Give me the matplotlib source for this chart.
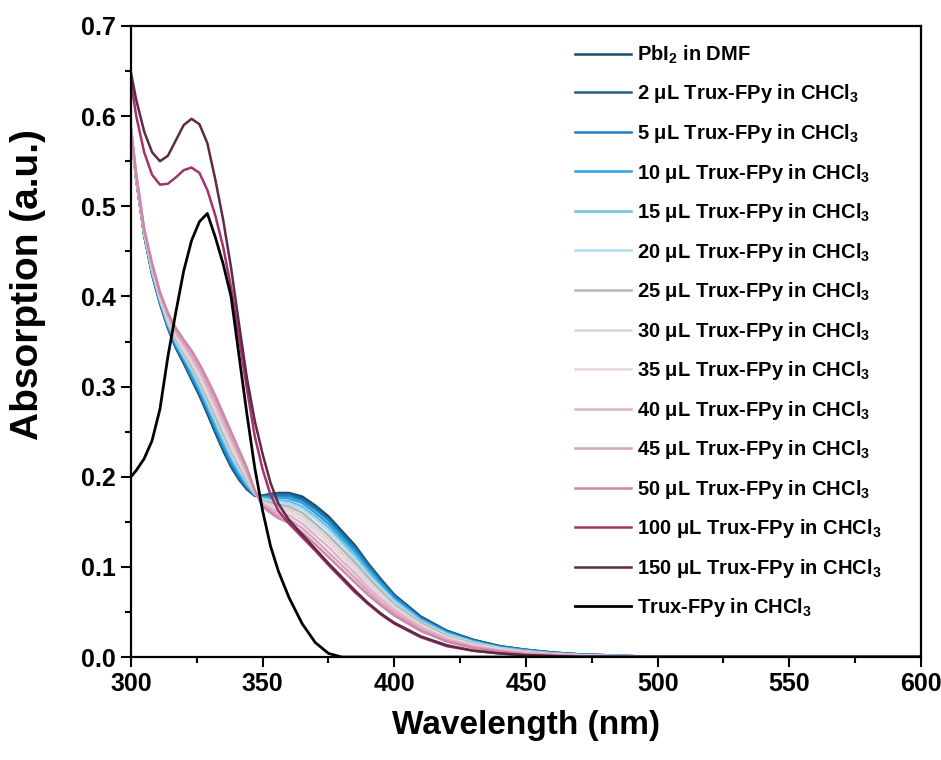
import matplotlib
matplotlib.use("Agg")
import matplotlib.pyplot as plt
from matplotlib.ticker import MultipleLocator

plt.rcParams["font.family"] = ["Liberation Sans", "DejaVu Sans"]
plt.rcParams["font.weight"] = "bold"
plt.rcParams["mathtext.fontset"] = "custom"
plt.rcParams["mathtext.rm"] = "Liberation Sans:bold"
plt.rcParams["mathtext.bf"] = "Liberation Sans:bold"
plt.rcParams["mathtext.default"] = "bf"

# wavelength grid (nm) shared by all spectra
wavelength = [300, 302, 305, 308, 311, 314, 317, 320, 323, 326, 329, 332, 335, 338, 341, 344,
              347, 350, 353, 356, 360, 365, 370, 375, 380, 385, 390, 395, 400, 410, 420, 430,
              440, 450, 460, 470, 480, 490, 500, 600]

pbi2_dmf = [.585, .530, .468, .425, .392, .365, .343, .326, .308, .290, .270, .249, .229, .211, .197, .186,
            .179, .179, .181, .182, .182, .178, .168, .156, .140, .124, .104, .086, .069, .045, .029, .019,
            .012, .008, .005, .003, .002, .001, 0, 0]
ul_2 = [.585, .530, .468, .425, .393, .366, .344, .327, .309, .291, .272, .251, .231, .213, .198, .187,
        .179, .179, .180, .181, .181, .176, .166, .154, .138, .122, .103, .085, .068, .044, .029, .019,
        .012, .008, .005, .003, .002, .001, 0, 0]
ul_5 = [.585, .531, .469, .426, .393, .367, .345, .329, .311, .294, .274, .253, .233, .215, .200, .188,
        .180, .178, .179, .179, .179, .174, .164, .152, .136, .120, .101, .083, .067, .043, .028, .018,
        .011, .008, .005, .003, .002, .001, 0, 0]
ul_10 = [.585, .531, .469, .427, .394, .368, .347, .331, .314, .296, .277, .256, .236, .218, .203, .190,
         .180, .177, .177, .177, .176, .171, .160, .148, .132, .117, .098, .081, .065, .042, .027, .017,
         .011, .007, .004, .003, .002, .001, 0, 0]
ul_15 = [.585, .531, .470, .428, .396, .370, .349, .333, .317, .299, .280, .260, .240, .222, .206, .192,
         .181, .176, .175, .174, .173, .167, .156, .144, .128, .113, .095, .078, .063, .041, .026, .017,
         .010, .007, .004, .002, .002, .001, 0, 0]
ul_20 = [.585, .532, .471, .429, .397, .371, .351, .335, .320, .303, .284, .264, .244, .225, .209, .195,
         .181, .175, .173, .172, .170, .164, .153, .140, .125, .109, .091, .076, .061, .039, .025, .016,
         .010, .006, .004, .002, .001, .001, 0, 0]
ul_25 = [.585, .532, .471, .431, .398, .373, .353, .338, .323, .306, .287, .268, .248, .229, .212, .197,
         .182, .173, .171, .169, .167, .160, .148, .135, .120, .105, .088, .073, .058, .038, .023, .015,
         .009, .006, .004, .002, .001, .001, 0, 0]
ul_30 = [.585, .533, .472, .432, .399, .374, .355, .340, .326, .309, .291, .272, .252, .232, .215, .199,
         .182, .172, .169, .167, .164, .156, .144, .131, .116, .101, .085, .070, .056, .036, .022, .014,
         .009, .005, .003, .002, .001, 0, 0, 0]
ul_35 = [.585, .533, .473, .433, .400, .376, .357, .343, .329, .313, .295, .276, .256, .236, .218, .202,
         .183, .171, .167, .164, .161, .152, .140, .127, .112, .097, .081, .067, .054, .035, .021, .013,
         .008, .005, .003, .002, .001, 0, 0, 0]
ul_40 = [.585, .534, .473, .434, .402, .378, .360, .346, .332, .317, .299, .280, .260, .241, .222, .204,
         .184, .170, .165, .161, .157, .148, .135, .122, .107, .093, .077, .064, .052, .033, .020, .012,
         .007, .004, .003, .001, .001, 0, 0, 0]
ul_45 = [.585, .534, .474, .436, .403, .380, .362, .349, .336, .321, .303, .285, .265, .245, .226, .207,
         .184, .168, .163, .157, .153, .143, .130, .116, .102, .088, .073, .060, .049, .031, .018, .011,
         .007, .004, .002, .001, .001, 0, 0, 0]
ul_50 = [.585, .535, .475, .437, .405, .382, .365, .352, .340, .325, .308, .290, .270, .250, .230, .210,
         .185, .167, .160, .154, .149, .138, .125, .111, .097, .083, .069, .057, .046, .029, .017, .010,
         .006, .003, .002, .001, .0005, 0, 0, 0]
ul_100 = [.638, .600, .560, .535, .524, .525, .532, .540, .543, .537, .518, .490, .455, .410, .355, .298,
          .245, .208, .180, .162, .148, .133, .118, .102, .087, .072, .059, .047, .037, .022, .012, .007,
          .004, .002, .001, 0, 0, 0, 0, 0]
ul_150 = [.648, .618, .583, .560, .550, .556, .573, .590, .597, .591, .570, .530, .485, .432, .370, .310,
          .262, .225, .193, .170, .152, .136, .120, .104, .089, .074, .060, .048, .038, .023, .013, .007,
          .004, .002, .001, 0, 0, 0, 0, 0]
trux_fpy = [.200, .207, .220, .240, .275, .333, .382, .428, .462, .483, .492, .466, .436, .400, .335, .270,
            .210, .162, .123, .095, .066, .037, .016, .004, 0, 0, 0, 0, 0, 0, 0, 0,
            0, 0, 0, 0, 0, 0, 0, 0]

labels = [
    r"PbI$_2$ in DMF",
    r"2 μL Trux-FPy in CHCl$_3$",
    r"5 μL Trux-FPy in CHCl$_3$",
    r"10 μL Trux-FPy in CHCl$_3$",
    r"15 μL Trux-FPy in CHCl$_3$",
    r"20 μL Trux-FPy in CHCl$_3$",
    r"25 μL Trux-FPy in CHCl$_3$",
    r"30 μL Trux-FPy in CHCl$_3$",
    r"35 μL Trux-FPy in CHCl$_3$",
    r"40 μL Trux-FPy in CHCl$_3$",
    r"45 μL Trux-FPy in CHCl$_3$",
    r"50 μL Trux-FPy in CHCl$_3$",
    r"100 μL Trux-FPy in CHCl$_3$",
    r"150 μL Trux-FPy in CHCl$_3$",
    r"Trux-FPy in CHCl$_3$",
]
series = [pbi2_dmf, ul_2, ul_5, ul_10, ul_15, ul_20, ul_25, ul_30, ul_35, ul_40, ul_45, ul_50,
          ul_100, ul_150, trux_fpy]
colors = ["#1b4b6b", "#1f5f8b", "#1f7fc0", "#29a3df", "#6cc0e6", "#b3dcef", "#b4b4b4", "#d6d6d6",
          "#e8d5de", "#dfb4c8", "#d8a3bb", "#cf87a8", "#a3336a", "#5e2a45", "#000000"]

fig = plt.figure(figsize=(9.41, 7.6), dpi=100)
ax = fig.add_axes([0.1392, 0.1355, 0.8395, 0.8303])

for values, label, color in zip(series, labels, colors):
    lw = 2.0 if color == "#000000" else 1.8
    ax.plot(wavelength, values, color=color, lw=lw, label=label)

ax.set_xlim(300, 600)
ax.set_ylim(0, 0.7)
ax.xaxis.set_major_locator(MultipleLocator(50))
ax.xaxis.set_minor_locator(MultipleLocator(25))
ax.yaxis.set_major_locator(MultipleLocator(0.1))
ax.yaxis.set_minor_locator(MultipleLocator(0.05))
ax.yaxis.set_major_formatter(matplotlib.ticker.FormatStrFormatter("%.1f"))
ax.tick_params(which="major", direction="out", length=7, width=1.5, labelsize=18, pad=4)
ax.tick_params(which="minor", direction="out", length=4, width=1.5)
for spine in ax.spines.values():
    spine.set_linewidth(1.6)

ax.set_xlabel("Wavelength (nm)", fontsize=24, fontweight="bold", labelpad=10)
ax.set_ylabel("Absorption (a.u.)", fontsize=28, fontweight="bold")
ax.yaxis.set_label_coords(-0.108, 0.59)

ax.legend(loc="upper left", bbox_to_anchor=(0.562, 0.972), frameon=False, fontsize=14.5,
          borderaxespad=0, borderpad=0, handlelength=2.8, handletextpad=0.3, labelspacing=0.82)

fig.savefig("out.png", dpi=100)
